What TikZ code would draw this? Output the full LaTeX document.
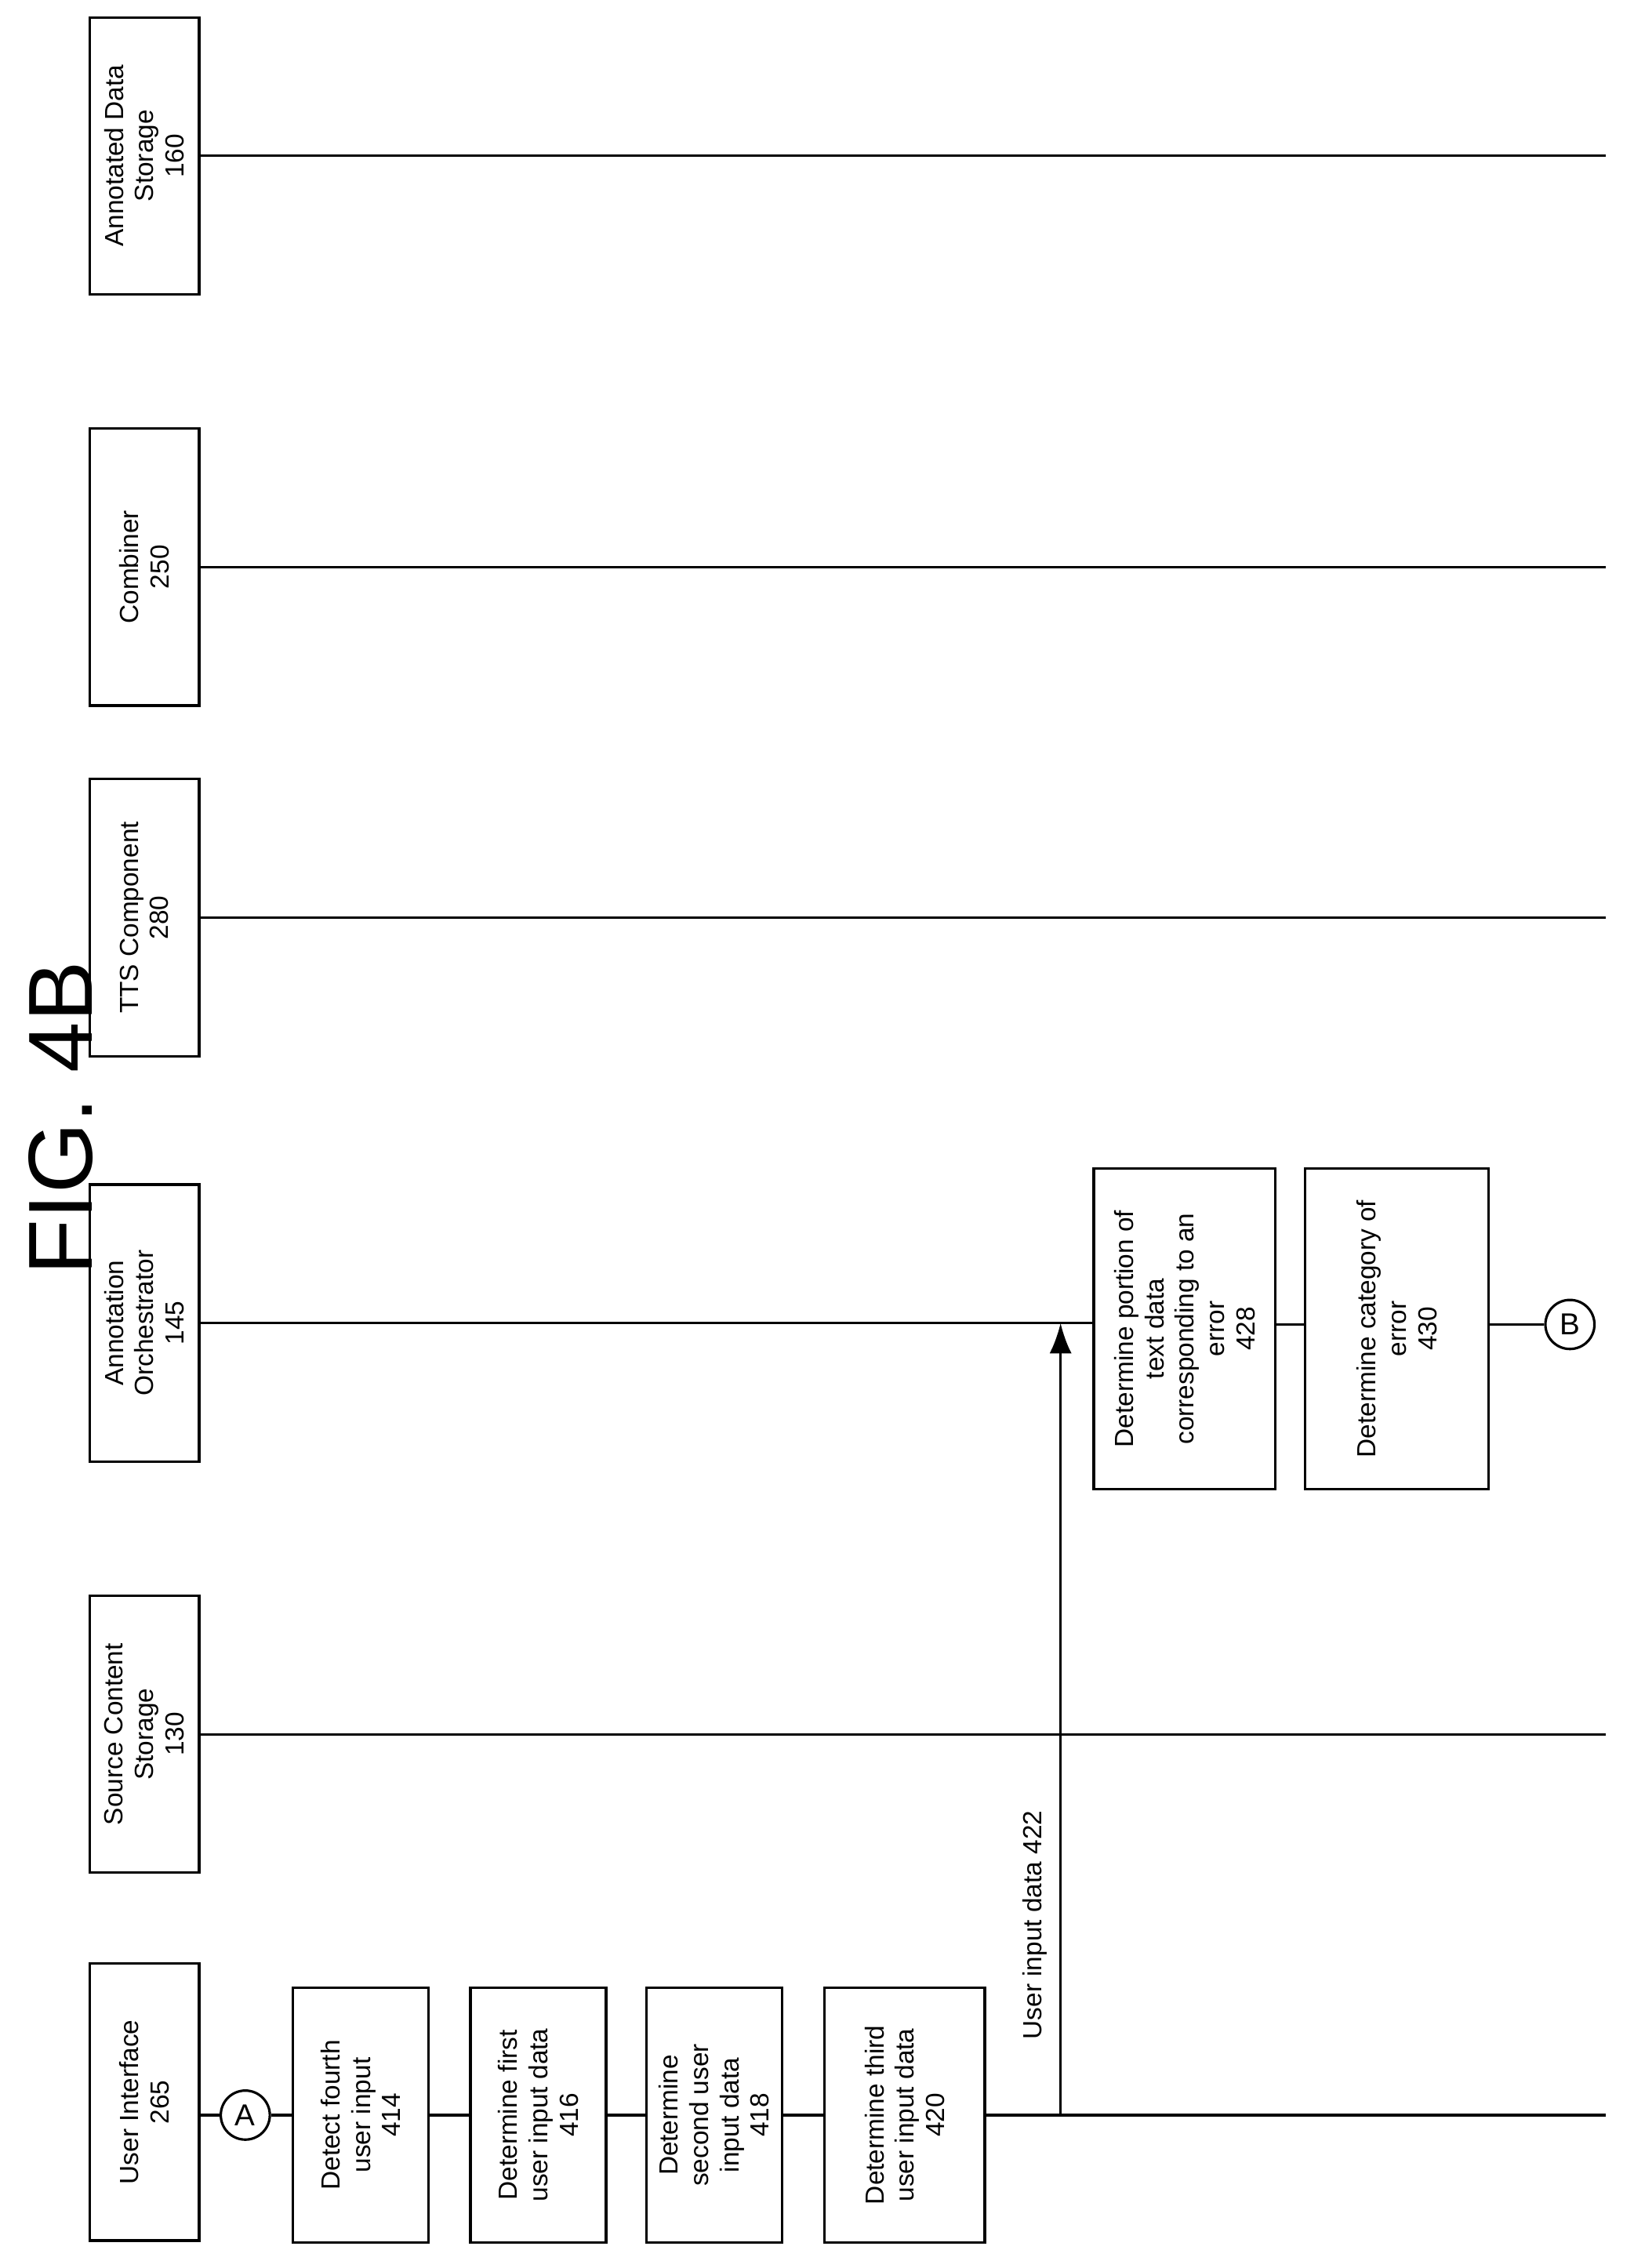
\documentclass[tikz,border=0pt]{standalone}
\usepackage{fontspec}
\setmainfont{Liberation Sans}
\usetikzlibrary{arrows.meta, positioning}
\tikzset{
  lane/.style={draw, line width=0.9pt, rotate=90, minimum width=192\un, minimum height=76\un, align=center, font=\fontsize{9.5}{11}\selectfont},
  stepbox/.style={draw, line width=0.9pt, rotate=90, align=center, font=\fontsize{9.5}{11}\selectfont},
  conn/.style={draw, circle, line width=0.9pt, minimum size=34\un, inner sep=0pt, font=\fontsize{11}{11}\selectfont},
  life/.style={line width=0.9pt}
}
\newlength{\un}
\setlength{\un}{0.0184cm}
\begin{document}
\begin{tikzpicture}[x=0.0184cm, y=-0.0184cm]
  \useasboundingbox (0,0) rectangle (1132,1572);

  \node[rotate=90, font=\fontsize{33}{33}\selectfont] (title) at (42,775) {FIG. 4B};

  % lifeline heads
  \node[lane] (ui) at (100,1457) {User Interface\\265};
  \node[lane] (src) at (100,1202) {Source Content\\Storage\\130};
  \node[lane] (orch) at (100,917) {Annotation\\Orchestrator\\145};
  \node[lane] (tts) at (100,636) {TTS Component\\280};
  \node[lane] (comb) at (100,393) {Combiner\\250};
  \node[lane] (ads) at (100,108) {Annotated Data\\Storage\\160};

  % user interface steps
  \node[conn] (a) at (170,1466) {A};
  \node[stepbox, minimum width=177\un, minimum height=94\un] (s414) at (250,1466) {Detect fourth\\user input\\414};
  \node[stepbox, minimum width=177\un, minimum height=94\un] (s416) at (373,1466) {Determine first\\user input data\\416};
  \node[stepbox, minimum width=177\un, minimum height=94\un] (s418) at (495,1466) {Determine\\second user\\input data\\418};
  \node[stepbox, minimum width=177\un, minimum height=111\un] (s420) at (627,1466) {Determine third\\user input data\\420};
  \coordinate (uiend) at (1113,1466);
  \coordinate (fork) at (735,1466);

  % orchestrator steps
  \node[stepbox, minimum width=222\un, minimum height=126\un] (s428) at (821,921) {Determine portion of\\text data\\corresponding to an\\error\\428};
  \node[stepbox, minimum width=222\un, minimum height=127\un] (s430) at (968,921) {Determine category of\\error\\430};
  \node[conn] (b) at (1088,918) {B};

  % lifelines
  \draw[life] (ui.south |- a) -- (a) -- (s414) -- (s416) -- (s418) -- (s420) -- (uiend);
  \draw[life] (src.south) -- (1113,1202);
  \draw[life] (orch.south) -- (s428.north |- orch.south);
  \draw[life] (s428.south |- b) -- (s430.north |- b);
  \draw[life] (s430.south |- b) -- (b);
  \draw[life] (tts.south) -- (1113,636);
  \draw[life] (comb.south) -- (1113,393);
  \draw[life] (ads.south) -- (1113,108);

  % message
  \draw[life, -{Latex[length=11pt,width=8pt]}] (fork) -- (fork |- orch.south)
    node[pos=0.24, left=1pt, rotate=90, anchor=south, font=\fontsize{9.5}{11}\selectfont] {User input data 422};
\end{tikzpicture}
\end{document}
